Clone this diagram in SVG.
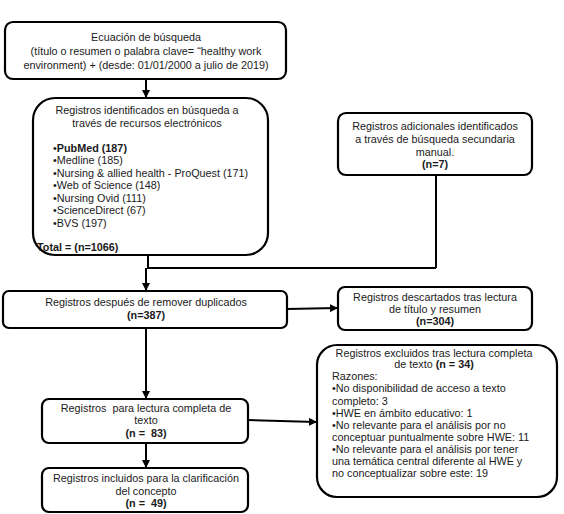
<svg xmlns="http://www.w3.org/2000/svg" width="564" height="514" viewBox="0 0 564 514">
<defs>
<marker id="ah" markerWidth="8" markerHeight="8" refX="7" refY="4" orient="auto" markerUnits="userSpaceOnUse">
<path d="M0,0 L8,4 L0,8 Z" fill="#000"/>
</marker>
<style>
.box{fill:#fff;stroke:#000;stroke-width:2.2}
.t{font-family:"Liberation Sans",Arial,sans-serif;font-size:10.8px;fill:#1a1a1a}
.c{text-anchor:middle}
.b{font-weight:bold}
.ln{fill:none;stroke:#000;stroke-width:2}
</style>
</defs>
<rect width="564" height="514" fill="#fff"/>
<g id="connectors">
<line class="ln" x1="146" y1="80" x2="146" y2="97" marker-end="url(#ah)"/>
<polyline class="ln" points="148,255 148,268 436,268"/>
<line class="ln" x1="436" y1="175" x2="436" y2="268"/>
<line class="ln" x1="146" y1="268" x2="146" y2="290" marker-end="url(#ah)"/>
<line class="ln" x1="287" y1="309" x2="337" y2="308" marker-end="url(#ah)"/>
<line class="ln" x1="146" y1="328" x2="146" y2="398" marker-end="url(#ah)"/>
<line class="ln" x1="248" y1="420" x2="316" y2="422" marker-end="url(#ah)"/>
<line class="ln" x1="146" y1="443" x2="146" y2="467" marker-end="url(#ah)"/>
</g>
<g id="n1">
<rect class="box" x="5" y="22" width="281" height="57" rx="8"/>
<text class="t c" x="146" y="41">Ecuación de búsqueda</text>
<text class="t c" x="146" y="55">(título o resumen o palabra clave= “healthy work</text>
<text class="t c" x="146" y="69">environment) + (desde: 01/01/2000 a julio de 2019)</text>
</g>
<g id="n2">
<rect class="box" x="33" y="98" width="235" height="157" rx="22"/>
<text class="t c" x="147" y="114">Registros identificados en búsqueda a</text>
<text class="t c" x="147" y="127">través de recursos electrónicos</text>
<text class="t" x="53" y="152">•<tspan class="b">PubMed (187)</tspan></text>
<text class="t" x="53" y="164">•Medline (185)</text>
<text class="t" x="53" y="177">•Nursing &amp; allied health - ProQuest (171)</text>
<text class="t" x="53" y="189">•Web of Science (148)</text>
<text class="t" x="53" y="202">•Nursing Ovid (111)</text>
<text class="t" x="53" y="214">•ScienceDirect (67)</text>
<text class="t" x="53" y="227">•BVS (197)</text>
<text class="t b" x="37" y="251">Total = (n=1066)</text>
</g>
<g id="n3">
<rect class="box" x="338" y="113" width="194" height="62" rx="8"/>
<text class="t c" x="435" y="130">Registros adicionales identificados</text>
<text class="t c" x="435" y="143">a través de búsqueda secundaria</text>
<text class="t c" x="435" y="156">manual.</text>
<text class="t c b" x="435" y="168">(n=7)</text>
</g>
<g id="n4">
<rect class="box" x="3" y="291" width="284" height="37" rx="6"/>
<text class="t c" x="146" y="306">Registros después de remover duplicados</text>
<text class="t c b" x="146" y="319">(n=387)</text>
</g>
<g id="n5">
<rect class="box" x="338" y="287" width="194" height="43" rx="7"/>
<text class="t c" x="435" y="301">Registros descartados tras lectura</text>
<text class="t c" x="435" y="313">de título y resumen</text>
<text class="t c b" x="435" y="325">(n=304)</text>
</g>
<g id="n6">
<rect class="box" x="42" y="399" width="206" height="44" rx="7"/>
<text class="t c" x="146" y="412" xml:space="preserve">Registros  para lectura completa de</text>
<text class="t c" x="146" y="424">texto</text>
<text class="t c b" x="146" y="437" xml:space="preserve">(n =  83)</text>
</g>
<g id="n7">
<rect class="box" x="317" y="345" width="240" height="152" rx="20"/>
<text class="t c" x="434" y="357">Registros excluidos tras lectura completa</text>
<text class="t c" x="434" y="368">de texto <tspan class="b">(n = 34)</tspan></text>
<text class="t" x="332" y="380">Razones:</text>
<text class="t" x="332" y="392">•No disponibilidad de acceso a texto</text>
<text class="t" x="332" y="405">completo: 3</text>
<text class="t" x="332" y="417">•HWE en ámbito educativo: 1</text>
<text class="t" x="332" y="429">•No relevante para el análisis por no</text>
<text class="t" x="332" y="441">conceptuar puntualmente sobre HWE: 11</text>
<text class="t" x="332" y="453">•No relevante para el análisis por tener</text>
<text class="t" x="332" y="465">una temática central diferente al HWE y</text>
<text class="t" x="332" y="477">no conceptualizar sobre este: 19</text>
</g>
<g id="n8">
<rect class="box" x="42" y="468" width="206" height="44" rx="7"/>
<text class="t c" x="146" y="482">Registros incluidos para la clarificación</text>
<text class="t c" x="146" y="495">del concepto</text>
<text class="t c b" x="146" y="507" xml:space="preserve">(n =  49)</text>
</g>
</svg>
